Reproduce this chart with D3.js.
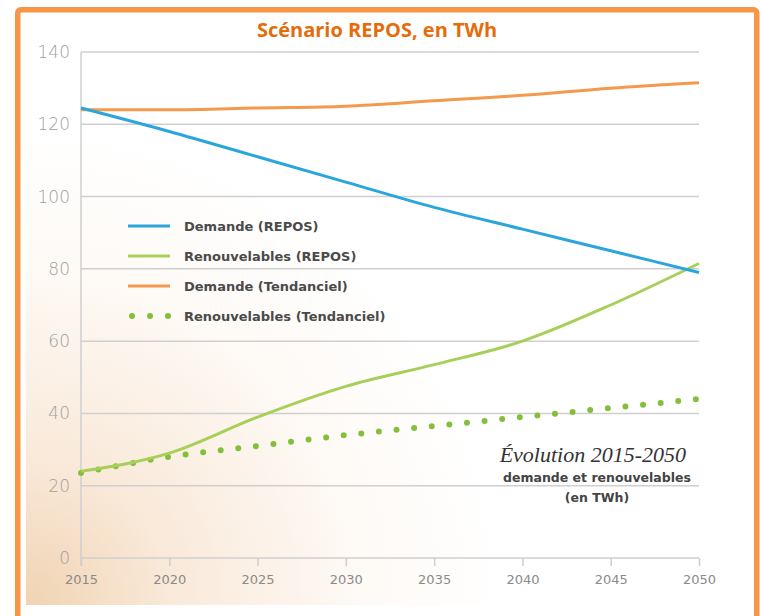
<!DOCTYPE html>
<html>
<head>
  <meta charset="utf-8">
  <title>Scénario REPOS</title>
  <style>
    body { margin: 0; background: #fff; }
  </style>
</head>
<body>
  <div class="container"></div>

  <script src="https://d3js.org/d3.v7.min.js"></script>
  <script type="text/javascript">
    // data
    var years = [2015, 2020, 2025, 2030, 2035, 2040, 2045, 2050];
    var demandeRepos = [124.5, 118, 111, 104, 97, 91, 85, 79];
    var renouvRepos = [24, 29, 39, 47.5, 53.5, 60, 70, 81.5];
    var demandeTend = [124, 124, 124.5, 125, 126.5, 128, 130, 131.5];
    var renouvTend = [23.5, 28, 31, 34, 36.5, 39, 41.5, 44];
    var yTicks = [0, 20, 40, 60, 80, 100, 120, 140];
    var seriesNames = ["Demande (REPOS)", "Renouvelables (REPOS)", "Demande (Tendanciel)", "Renouvelables (Tendanciel)"];

    var width = 761, height = 616;

    var svg = d3.select(".container")
      .append("svg")
      .attr("width", width)
      .attr("height", height);

    var defs = svg.append("defs");
    var grad = defs.append("radialGradient")
      .attr("id", "beige")
      .attr("gradientUnits", "userSpaceOnUse")
      .attr("cx", 26).attr("cy", 605).attr("r", 480);
    grad.append("stop").attr("offset", "0").attr("stop-color", "#f0d3b2");
    grad.append("stop").attr("offset", "0.3").attr("stop-color", "#f9e9d9");
    grad.append("stop").attr("offset", "0.7").attr("stop-color", "#fefaf6");
    grad.append("stop").attr("offset", "1").attr("stop-color", "#ffffff");

    svg.append("rect")
      .attr("x", 26).attr("y", 30)
      .attr("width", 680).attr("height", 575)
      .attr("fill", "url(#beige)");

    var x = d3.scaleLinear().domain([2015, 2050]).range([81, 699]);
    var y = d3.scaleLinear().domain([0, 140]).range([558, 52]);

    // grid
    svg.append("g")
      .selectAll("line")
      .data(yTicks)
      .enter()
      .append("line")
      .attr("x1", x(2015)).attr("x2", x(2050))
      .attr("y1", function(d){ return y(d); })
      .attr("y2", function(d){ return y(d); })
      .attr("stroke", "#cfcfcf")
      .attr("stroke-width", 1.5);

    svg.append("line")
      .attr("x1", x(2015)).attr("x2", x(2015))
      .attr("y1", y(140)).attr("y2", y(0) + 8)
      .attr("stroke", "#cfcfcf")
      .attr("stroke-width", 1.5);

    // axes
    var xAxis = svg.append("g")
      .attr("transform", "translate(0," + y(0) + ")")
      .call(d3.axisBottom(x).tickValues(years).tickFormat(d3.format("d")).tickSize(8).tickPadding(9));
    xAxis.select(".domain").remove();
    xAxis.selectAll("line").attr("stroke", "#cfcfcf").attr("stroke-width", 1.5);
    xAxis.selectAll("text")
      .attr("fill", "#8a8a8a")
      .attr("font-size", 13)
      .attr("font-family", "DejaVu Sans, sans-serif");

    var yAxis = svg.append("g")
      .attr("transform", "translate(" + (x(2015) - 8) + ",0)")
      .call(d3.axisLeft(y).tickValues(yTicks).tickSize(0).tickPadding(3));
    yAxis.select(".domain").remove();
    yAxis.selectAll("text")
      .attr("fill", "#a0a0a0")
      .attr("font-size", 17)
      .attr("font-weight", 200)
      .attr("font-family", "DejaVu Sans, sans-serif");

    // lines
    function pts(vals) {
      return years.map(function(yr, i){ return [yr, vals[i]]; });
    }
    var line = d3.line()
      .x(function(d){ return x(d[0]); })
      .y(function(d){ return y(d[1]); })
      .curve(d3.curveMonotoneX);

    svg.append("path")
      .attr("d", line(pts(demandeTend)))
      .attr("fill", "none")
      .attr("stroke", "#f39a4c")
      .attr("stroke-width", 3);

    svg.append("path")
      .attr("d", line(pts(renouvTend)))
      .attr("fill", "none")
      .attr("stroke", "#84bf3a")
      .attr("stroke-width", 6)
      .attr("stroke-linecap", "round")
      .attr("stroke-dasharray", "0,17.7");

    svg.append("path")
      .attr("d", line(pts(renouvRepos)))
      .attr("fill", "none")
      .attr("stroke", "#a8cf5a")
      .attr("stroke-width", 3);

    svg.append("path")
      .attr("d", line(pts(demandeRepos)))
      .attr("fill", "none")
      .attr("stroke", "#2aa6dc")
      .attr("stroke-width", 3);

    // legend
    var legColors = ["#2aa6dc", "#a8cf5a", "#f39a4c", "#84bf3a"];
    var leg = svg.append("g");
    seriesNames.forEach(function(name, i) {
      var ly = 226 + i * 30;
      if (i < 3) {
        leg.append("line")
          .attr("x1", 128).attr("x2", 170)
          .attr("y1", ly).attr("y2", ly)
          .attr("stroke", legColors[i])
          .attr("stroke-width", 3);
      } else {
        leg.append("line")
          .attr("x1", 132).attr("x2", 170)
          .attr("y1", ly).attr("y2", ly)
          .attr("stroke", legColors[i])
          .attr("stroke-width", 6)
          .attr("stroke-linecap", "round")
          .attr("stroke-dasharray", "0,18");
      }
      leg.append("text")
        .attr("x", 184)
        .attr("y", ly + 5)
        .attr("fill", "#4a4a4a")
        .attr("font-size", 13)
        .attr("font-weight", 700)
        .attr("font-family", "DejaVu Sans, sans-serif")
        .text(name);
    });

    // annotation
    svg.append("text")
      .attr("x", 686).attr("y", 462)
      .attr("text-anchor", "end")
      .attr("font-size", 22)
      .attr("font-style", "italic")
      .attr("font-family", "Liberation Serif, serif")
      .attr("fill", "#333")
      .text("Évolution 2015-2050");
    svg.append("text")
      .attr("x", 597).attr("y", 482)
      .attr("text-anchor", "middle")
      .attr("font-size", 12.5)
      .attr("font-weight", 700)
      .attr("font-family", "DejaVu Sans, sans-serif")
      .attr("fill", "#444")
      .text("demande et renouvelables");
    svg.append("text")
      .attr("x", 597).attr("y", 502)
      .attr("text-anchor", "middle")
      .attr("font-size", 12.5)
      .attr("font-weight", 700)
      .attr("font-family", "DejaVu Sans, sans-serif")
      .attr("fill", "#444")
      .text("(en TWh)");

    // title
    svg.append("text")
      .attr("x", 377).attr("y", 37)
      .attr("text-anchor", "middle")
      .attr("font-size", 20)
      .attr("font-weight", 700)
      .attr("font-family", "Open Sans, sans-serif")
      .attr("fill", "#e46c0a")
      .text("Scénario REPOS, en TWh");

    // orange frame
    svg.append("rect")
      .attr("x", 17.75).attr("y", 9.75)
      .attr("width", 739).attr("height", 620)
      .attr("rx", 3)
      .attr("fill", "none")
      .attr("stroke", "#f79646")
      .attr("stroke-width", 5.5);
  </script>
</body>
</html>
